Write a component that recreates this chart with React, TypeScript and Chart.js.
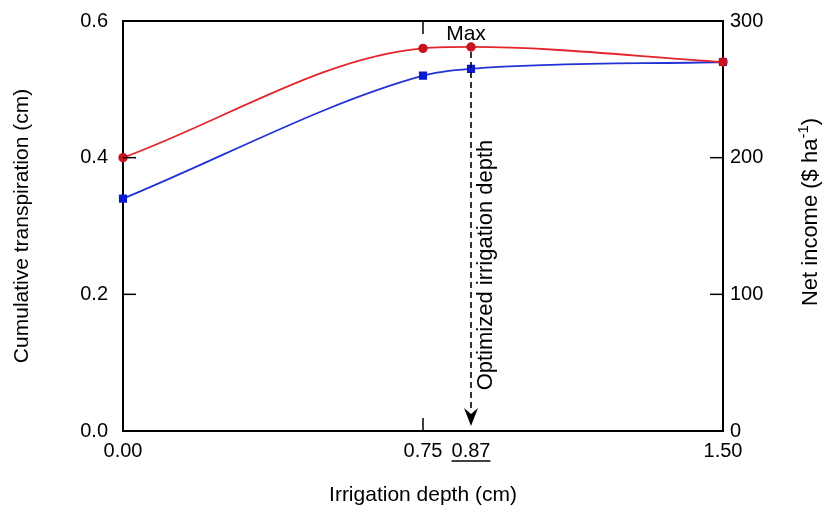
import React, { useEffect, useRef } from "react";
import { Chart, registerables } from "chart.js";

Chart.register(...registerables);

// ---- data ----
const depths = [0, 0.75, 0.87, 1.5];
const transpiration = [0.34, 0.52, 0.53, 0.54]; // left axis (cm)
const netIncome = [200, 280, 281, 270]; // right axis ($ ha-1)
const xTicks = [0, 0.75, 0.87, 1.5];
const leftTicks = [0, 0.2, 0.4, 0.6];
const rightTicks = [0, 100, 200, 300];
const optimizedDepth = 0.87;
const optimizedIncome = 281;

const FONT = "'Liberation Sans', Arial, Helvetica, sans-serif";

const decorPlugin = {
  id: "decor",
  beforeDatasetsDraw(chart: any) {
    const { ctx, chartArea: a } = chart;
    ctx.save();
    ctx.strokeStyle = "#000";
    ctx.lineWidth = 2;
    ctx.strokeRect(a.left, a.top, a.right - a.left, a.bottom - a.top);
    ctx.restore();
  },
  afterDatasetsDraw(chart: any) {
    const { ctx, chartArea: a, scales } = chart;
    const xs = scales.x;
    const yl = scales.y;
    const yr = scales.y1;
    const line = (x1: number, y1: number, x2: number, y2: number) => {
      ctx.beginPath();
      ctx.moveTo(x1, y1);
      ctx.lineTo(x2, y2);
      ctx.stroke();
    };
    ctx.save();
    ctx.strokeStyle = "#000";
    ctx.lineWidth = 1.5;
    const L = 13;
    leftTicks.forEach((v) => {
      const py = yl.getPixelForValue(v);
      line(a.left, py, a.left + L, py);
    });
    rightTicks.forEach((v) => {
      const py = yr.getPixelForValue(v);
      line(a.right - L, py, a.right, py);
    });
    xTicks
      .filter((v) => v !== optimizedDepth)
      .forEach((v) => {
        const px = xs.getPixelForValue(v);
        line(px, a.bottom, px, a.bottom - L);
        line(px, a.top, px, a.top + L);
      });

    // dashed line with arrow at optimized depth
    const ox = xs.getPixelForValue(optimizedDepth);
    const oy = yr.getPixelForValue(optimizedIncome);
    ctx.setLineDash([6, 4]);
    ctx.lineWidth = 1.6;
    line(ox, oy + 5, ox, a.bottom - 20);
    ctx.setLineDash([]);
    ctx.fillStyle = "#000";
    ctx.beginPath();
    ctx.moveTo(ox, a.bottom - 5);
    ctx.lineTo(ox - 7, a.bottom - 23);
    ctx.lineTo(ox, a.bottom - 17);
    ctx.lineTo(ox + 7, a.bottom - 23);
    ctx.closePath();
    ctx.fill();

    // Max label
    ctx.font = `21px ${FONT}`;
    ctx.textAlign = "center";
    ctx.textBaseline = "middle";
    ctx.fillText("Max", ox - 5, a.top + 13);

    // Optimized irrigation depth label
    ctx.save();
    ctx.font = `22px ${FONT}`;
    ctx.translate(ox + 15, a.top + 244);
    ctx.rotate(-Math.PI / 2);
    ctx.fillText("Optimized irrigation depth", 0, 0);
    ctx.restore();

    // underline for 0.87 tick label
    ctx.font = `20px ${FONT}`;
    const w = ctx.measureText(Number(optimizedDepth).toFixed(2)).width;
    ctx.lineWidth = 1.3;
    line(ox - w / 2, a.bottom + 30, ox + w / 2, a.bottom + 30);

    // right axis title with superscript
    ctx.save();
    ctx.translate(811, (a.top + a.bottom) / 2 - 14);
    ctx.rotate(-Math.PI / 2);
    ctx.textAlign = "left";
    ctx.textBaseline = "middle";
    const big = `22px ${FONT}`;
    const small = `15px ${FONT}`;
    const p1 = "Net income ($ ha";
    const p2 = "-1";
    const p3 = ")";
    ctx.font = big;
    const w1 = ctx.measureText(p1).width;
    const w3 = ctx.measureText(p3).width;
    ctx.font = small;
    const w2 = ctx.measureText(p2).width;
    let cx = -(w1 + w2 + w3) / 2;
    ctx.font = big;
    ctx.fillText(p1, cx, 0);
    cx += w1;
    ctx.font = small;
    ctx.fillText(p2, cx, -7);
    cx += w2;
    ctx.font = big;
    ctx.fillText(p3, cx, 0);
    ctx.restore();

    ctx.restore();
  },
};

const zeroPad = (scale: any) => {
  scale.paddingTop = 0;
  scale.paddingBottom = 0;
  scale.paddingLeft = 0;
  scale.paddingRight = 0;
};

export default function App() {
  const canvasRef = useRef<HTMLCanvasElement | null>(null);

  useEffect(() => {
    document.body.style.margin = "0";
    const canvas = canvasRef.current;
    if (!canvas) return;
    const tickFont = { family: FONT, size: 20 };
    const chart = new Chart(canvas, {
      type: "line",
      data: {
        datasets: [
          {
            label: "Net income",
            data: depths.map((d, i) => ({ x: d, y: netIncome[i] })),
            yAxisID: "y1",
            borderColor: "#e4262c",
            borderWidth: 1.8,
            pointBackgroundColor: "#c8141e",
            pointBorderColor: "#c8141e",
            pointRadius: 3.8,
            pointStyle: "circle",
            cubicInterpolationMode: "monotone",
            clip: false,
          },
          {
            label: "Cumulative transpiration",
            data: depths.map((d, i) => ({ x: d, y: transpiration[i] })),
            yAxisID: "y",
            borderColor: "#2233d6",
            borderWidth: 1.8,
            pointBackgroundColor: "#0a1ad0",
            pointBorderColor: "#0a1ad0",
            pointRadius: 4.5,
            pointStyle: "rect",
            cubicInterpolationMode: "monotone",
            clip: false,
          },
        ],
      },
      options: {
        animation: false,
        responsive: true,
        maintainAspectRatio: false,
        layout: { padding: { top: 21, left: 0, right: 0, bottom: 0 } },
        plugins: {
          legend: { display: false },
          tooltip: { enabled: false },
        },
        scales: {
          x: {
            type: "linear",
            min: 0,
            max: 1.5,
            grid: { display: false, drawTicks: false },
            border: { display: false },
            afterBuildTicks: (scale: any) => {
              scale.ticks = xTicks.map((v) => ({ value: v }));
            },
            afterFit: (scale: any) => {
              scale.height = 75;
              zeroPad(scale);
            },
            ticks: {
              autoSkip: false,
              maxRotation: 0,
              padding: 8,
              color: "#000",
              font: tickFont,
              callback: (v: any) => Number(v).toFixed(2),
            },
            title: {
              display: true,
              text: "Irrigation depth (cm)",
              color: "#000",
              font: { family: FONT, size: 21, lineHeight: 1 },
              padding: { top: 0, bottom: 0 },
            },
          },
          y: {
            position: "left",
            min: 0,
            max: 0.6,
            grid: { display: false, drawTicks: false },
            border: { display: false },
            afterBuildTicks: (scale: any) => {
              scale.ticks = leftTicks.map((v) => ({ value: v }));
            },
            afterFit: (scale: any) => {
              scale.width = 123;
              zeroPad(scale);
            },
            ticks: {
              padding: 15,
              color: "#000",
              font: tickFont,
              callback: (v: any) => Number(v).toFixed(1),
            },
            title: {
              display: true,
              text: "Cumulative transpiration (cm)",
              color: "#000",
              font: { family: FONT, size: 21, lineHeight: 1.2 },
              padding: { top: 10, bottom: 0 },
            },
          },
          y1: {
            position: "right",
            min: 0,
            max: 300,
            grid: { display: false, drawTicks: false },
            border: { display: false },
            afterBuildTicks: (scale: any) => {
              scale.ticks = rightTicks.map((v) => ({ value: v }));
            },
            afterFit: (scale: any) => {
              scale.width = 100;
              zeroPad(scale);
            },
            ticks: {
              padding: 7,
              color: "#000",
              font: tickFont,
              callback: (v: any) => String(v),
            },
            title: { display: false },
          },
        },
      },
      plugins: [decorPlugin],
    } as any);
    return () => chart.destroy();
  }, []);

  return (
    <div style={{ width: 823, height: 506, position: "relative", background: "#fff" }}>
      <canvas ref={canvasRef} />
    </div>
  );
}
